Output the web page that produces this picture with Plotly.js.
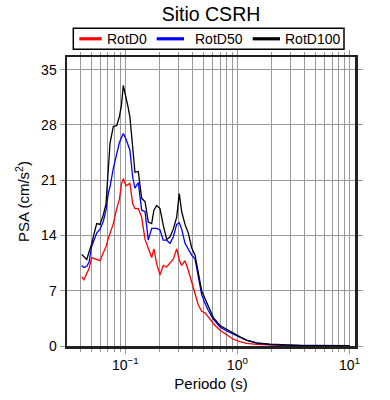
<!DOCTYPE html>
<html>
<head>
<meta charset="utf-8">
<script src="https://cdn.plot.ly/plotly-3.0.1.min.js"></script>
<style>html,body{margin:0;padding:0;background:#fff}#chart{width:390px;height:400px}</style>
</head>
<body>
<div id="chart"></div>
<script>
const periods = [0.0408,0.0428,0.0453,0.0475,0.0501,0.0526,0.0556,0.0595,0.0637,0.0673,0.0705,0.0731,0.0782,0.0838,0.0884,0.0925,0.0960,0.1014,0.1057,0.110,0.1164,0.122,0.1306,0.140,0.150,0.1604,0.172,0.180,0.1906,0.204,0.218,0.234,0.2505,0.268,0.2873,0.303,0.3185,0.341,0.3648,0.391,0.419,0.448,0.480,0.514,0.550,0.610,0.700,0.803,0.919,1.055,1.21,1.486,1.954,2.66,3.62,5.46,10.0];
const rotD100 = [11.6,11.3,10.95,11.9,12.9,14.2,15.5,15.4,16.6,18.0,22.5,25.7,27.8,27.9,29.0,30.5,33.0,31.6,30.3,29.0,25.2,22.0,22.1,18.7,18.3,15.7,15.5,17.2,17.8,17.4,15.3,13.5,13.8,14.8,16.3,19.3,17.0,15.4,14.3,12.45,11.5,9.0,7.0,6.0,5.0,3.6,2.6,2.1,1.6,1.15,0.75,0.4,0.22,0.12,0.08,0.06,0.04];
const rotD50 = [10.2,9.95,10.1,10.6,12.6,13.5,14.3,14.8,15.8,17.2,19.3,20.2,22.5,24.3,25.7,26.4,26.9,26.2,25.5,24.8,21.4,20.0,20.7,17.2,17.0,13.4,14.9,14.9,14.9,14.7,13.4,13.4,13.0,13.8,15.4,15.6,14.8,13.0,12.2,11.5,11.0,8.5,6.5,5.4,4.5,3.4,2.4,1.9,1.5,1.15,0.72,0.36,0.18,0.1,0.07,0.05,0.03];
const rotD0 = [8.75,8.4,9.2,9.8,11.2,11.1,11.0,10.8,11.8,12.6,13.6,14.2,15.5,17.4,18.5,20.5,21.2,20.3,20.5,20.6,18.0,17.4,17.4,16.3,13.5,12.35,11.2,12.3,10.4,9.0,10.2,10.0,10.45,11.0,12.3,10.9,10.2,10.8,9.6,8.0,6.6,5.2,4.4,4.2,3.7,2.85,2.0,1.4,0.85,0.55,0.33,0.2,0.1,0.06,0.04,0.03,0.02];
const seriesNames = ['RotD0','RotD50','RotD100'];
const seriesColors = ['#ff0000','#0000ff','#000000'];
const xMajorVals = [0.1, 1, 10];
const xMajorText = ['10<sup>−1</sup>','10<sup>0</sup>','10<sup>1</sup>'];
const yTickVals = [0,7,14,21,28,35];

const minorVals = [];
for (let e = -2; e <= 1; e++) for (let d = 2; d <= 9; d++) minorVals.push(d * Math.pow(10, e));

const seriesData = [rotD0, rotD50, rotD100];
const traces = seriesData.map((ys, i) => ({
  x: periods, y: ys, type: 'scatter', mode: 'lines', name: seriesNames[i],
  line: {color: seriesColors[i], width: 1.3}, showlegend: false
}));

// Manual legend layout (paper coordinates; styling only)
const legendBox = {x0: 0.0219, x1: 0.9618, y0: 1.0266, y1: 1.0993};
const legendY = 1.063;
const legendSample = [[0.0427, 0.1205], [0.3115, 0.4063], [0.6448, 0.7396]];
const legendTextX = [0.1378, 0.4444, 0.7569];

const font = 'Liberation Sans, Arial, sans-serif';
const shapes = [{type: 'rect', xref: 'paper', yref: 'paper', x0: legendBox.x0, x1: legendBox.x1, y0: legendBox.y0, y1: legendBox.y1,
  line: {color: '#000', width: 1.5}, fillcolor: '#fff', layer: 'above'}];
const annotations = [];
seriesNames.forEach((n, i) => {
  shapes.push({type: 'line', xref: 'paper', yref: 'paper', x0: legendSample[i][0], x1: legendSample[i][1], y0: legendY, y1: legendY,
    line: {color: seriesColors[i], width: 3.2}, layer: 'above'});
  annotations.push({xref: 'paper', yref: 'paper', x: legendTextX[i], y: legendY, xanchor: 'left', yanchor: 'middle',
    text: n, showarrow: false, font: {family: font, size: 14, color: '#000'}, xshift: -2});
});

const layout = {
  width: 390, height: 400,
  margin: {l: 67, r: 35, t: 57, b: 54},
  paper_bgcolor: '#fff', plot_bgcolor: '#fff',
  font: {family: font, color: '#000', size: 14},
  title: {text: 'Sitio CSRH', font: {family: font, size: 19.5, color: '#000'}, xref: 'paper', x: 0.5, xanchor: 'center', y: 0.965, yanchor: 'middle'},
  showlegend: false,
  shapes: shapes,
  annotations: annotations,
  xaxis: {
    type: 'log', range: [Math.log10(0.0302), Math.log10(11.2)],
    tickmode: 'array', tickvals: xMajorVals, ticktext: xMajorText,
    ticks: 'outside', ticklen: 5, tickcolor: '#999', tickwidth: 1,
    showgrid: true, gridcolor: '#9a9a9a', gridwidth: 1,
    minor: {tickmode: 'array', tickvals: minorVals, ticks: 'outside', ticklen: 3, tickcolor: '#999', showgrid: true, gridcolor: '#9a9a9a', gridwidth: 1},
    showline: true, linecolor: '#222', linewidth: 2.5, mirror: 'allticks',
    zeroline: false,
    title: {text: 'Periodo (s)', font: {family: font, size: 15}, standoff: 6},
    tickfont: {family: font, size: 14}
  },
  yaxis: {
    range: [0, 36.6], tickmode: 'array', tickvals: yTickVals,
    ticks: 'outside', ticklen: 5, tickcolor: '#999', tickwidth: 1,
    showgrid: true, gridcolor: '#9a9a9a', gridwidth: 1,
    showline: true, linecolor: '#222', linewidth: 2.5, mirror: 'allticks',
    zeroline: false,
    title: {text: 'PSA (cm/s<sup>2</sup>)', font: {family: font, size: 15}, standoff: 8},
    tickfont: {family: font, size: 14}
  }
};
Plotly.newPlot('chart', traces, layout, {displayModeBar: false, staticPlot: true});
</script>
</body>
</html>
